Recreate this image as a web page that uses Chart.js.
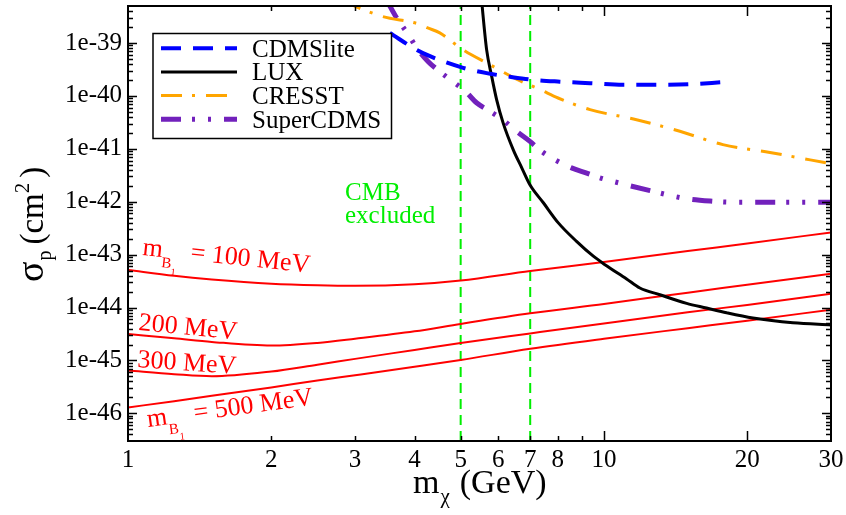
<!DOCTYPE html>
<html>
<head>
<meta charset="utf-8">
<script src="https://cdn.jsdelivr.net/npm/chart.js@4/dist/chart.umd.min.js"></script>
<style>
    html, body { margin: 0; padding: 0; background: #fff; }
</style>
</head>
<body>
<canvas id="chart" width="846" height="515"></canvas>
<script>
// ── Achsen ─────────────────────────────────────────────────────────────────

const X_MIN = 1, X_MAX = 30;
const Y_MIN = 3e-47, Y_MAX = 5e-39;

const X_TICKS = [1, 2, 3, 4, 5, 6, 7, 8, 10, 20, 30];
const Y_TICKS = [1e-46, 1e-45, 1e-44, 1e-43, 1e-42, 1e-41, 1e-40, 1e-39];

// ── Experimentelle Grenzen ─────────────────────────────────────────────────

const CDMSLITE_X = [3.55, 4.04, 4.31, 5.06, 5.67, 6.35, 6.99, 8.08, 9.35, 10.96, 12.92, 15.16, 17.78];
const CDMSLITE_Y = [1.55e-39, 7.41e-40, 5.62e-40, 3.39e-40, 2.69e-40, 2.29e-40, 2.04e-40,
                    1.86e-40, 1.74e-40, 1.62e-40, 1.62e-40, 1.66e-40, 1.82e-40];

const LUX_X = [5.52, 5.67, 5.81, 5.95, 6.14, 6.45, 6.72, 6.99, 7.46, 8.02, 8.76, 9.50, 10.05,
               11.16, 11.90, 13.11, 14.92, 16.43, 18.1, 20.56, 24.95, 30];
const LUX_Y = [7.9e-39, 7.41e-40, 2.34e-40, 8.51e-41, 3.09e-41, 9.55e-42, 4.37e-42, 2.09e-42, 9.55e-43,
               3.98e-43, 1.78e-43, 9.33e-44, 6.46e-44, 3.47e-44, 2.34e-44, 1.74e-44, 1.20e-44, 9.77e-45,
               7.94e-45, 6.31e-45, 5.13e-45, 4.68e-45];

const CRESST_X = [2.8, 2.95, 3.12, 3.43, 4.11, 4.25, 4.52, 5.06, 5.76, 6.57, 7.34, 8.01, 9.35,
                  11.71, 14.44, 17.78, 22.33, 29.9];
const CRESST_Y = [6.3e-39, 5.25e-39, 4.27e-39, 3.16e-39, 2.24e-39, 1.95e-39, 1.55e-39, 7.41e-40,
                  3.89e-40, 2.04e-40, 1.32e-40, 9.12e-41, 5.5e-41, 3.55e-41, 2.14e-41, 1.2e-41,
                  8.51e-42, 5.25e-42];

const SCDMS_X = [3.5, 3.67, 3.88, 4.04, 4.27, 4.52, 4.82, 5.11, 5.40, 5.76, 6.13, 6.55, 6.99, 7.40,
                 8.01, 8.55, 9.20, 9.81, 10.8, 12.5, 14.66, 16.94, 18.39, 30];
const SCDMS_Y = [6.3e-39, 2.95e-39, 1.45e-39, 8.13e-40, 4.47e-40, 2.88e-40, 1.86e-40, 1.23e-40,
                 7.41e-41, 5.13e-41, 3.55e-41, 2.14e-41, 1.38e-41, 8.91e-42, 5.75e-42, 4.37e-42,
                 3.47e-42, 2.82e-42, 2.24e-42, 1.62e-42, 1.17e-42, 1.02e-42, 9.8e-43, 9.8e-43];

// ── Modellkurven (m_B1) ────────────────────────────────────────────────────

const MODEL_X = [1, 1.25, 1.5, 2, 2.5, 3, 4, 5, 7, 10, 15, 20, 30];
const MB100_Y = [5.13e-44, 3.98e-44, 3.39e-44, 2.82e-44, 2.63e-44, 2.57e-44, 2.75e-44, 3.24e-44,
                 4.90e-44, 7.24e-44, 1.17e-43, 1.62e-43, 2.63e-43];
const MB200_Y = [3.16e-45, 2.63e-45, 2.24e-45, 1.91e-45, 2.14e-45, 2.57e-45, 3.55e-45, 4.90e-45,
                 7.76e-45, 1.17e-44, 1.91e-44, 2.69e-44, 4.37e-44];
const MB300_Y = [6.46e-46, 5.50e-46, 5.01e-46, 6.17e-46, 8.32e-46, 1.07e-45, 1.58e-45, 2.14e-45,
                 3.24e-45, 5.01e-45, 8.13e-45, 1.12e-44, 1.82e-44];
const MB500_Y = [1.29e-46, 1.70e-46, 2.14e-46, 3.09e-46, 4.17e-46, 5.25e-46, 7.59e-46, 1.02e-45,
                 1.66e-45, 2.57e-45, 4.07e-45, 5.62e-45, 9.12e-45];

// CMB-Ausschluss
const CMB_BOUNDS = [5, 7];

// ── Helfer ─────────────────────────────────────────────────────────────────

const SERIF = '"Liberation Serif", "Times New Roman", serif';
const GREEN = '#00ee00';

Chart.defaults.font.family = SERIF;

const pts = (xs, ys) => xs.map((x, i) => ({ x, y: ys[i] }));

function curve(label, xs, ys, color, width, dash) {
    return {
        label,
        data: pts(xs, ys),
        borderColor: color,
        borderWidth: width,
        borderDash: dash || [],
        pointRadius: 0,
        showLine: true,
        fill: false,
        cubicInterpolationMode: 'monotone',
        clip: 0,
    };
}

function drawRich(ctx, x, y, angle, parts) {
    ctx.save();
    ctx.translate(x, y);
    ctx.rotate(angle);
    let cx = 0;
    parts.forEach(p => {
        ctx.font = `${p.size}px ${SERIF}`;
        ctx.fillText(p.text, cx, p.dy || 0);
        cx += ctx.measureText(p.text).width + (p.gap || 0);
    });
    ctx.restore();
}

const deg = d => d * Math.PI / 180;

// Chart.js reserviert sonst Platz für überstehende Labels
function noScalePadding(scale) {
    scale.paddingTop = 0;
    scale.paddingBottom = 0;
    scale.paddingLeft = 0;
    scale.paddingRight = 0;
}

// ── Overlay: Legende, Rahmen, Ticks, Beschriftungen ────────────────────────

const overlay = {
    id: 'overlay',
    afterDatasetsDraw(chart) {
        const { ctx, chartArea: a, scales: { x, y } } = chart;
        ctx.save();
        ctx.textAlign = 'left';
        ctx.textBaseline = 'alphabetic';

        // Legende
        ctx.fillStyle = '#fff';
        ctx.fillRect(153, 33.5, 238.5, 105);
        ctx.strokeStyle = '#000';
        ctx.lineWidth = 1.5;
        ctx.strokeRect(153, 33.5, 238.5, 105);
        chart.data.datasets.filter(d => d.label).forEach((d, i) => {
            const base = 56.7 + i * 23.7;
            ctx.save();
            ctx.strokeStyle = d.borderColor;
            ctx.lineWidth = d.borderWidth;
            ctx.setLineDash(d.borderDash);
            ctx.beginPath();
            ctx.moveTo(161, base - 8.5);
            ctx.lineTo(237, base - 8.5);
            ctx.stroke();
            ctx.restore();
            ctx.fillStyle = '#000';
            ctx.font = `25px ${SERIF}`;
            ctx.fillText(d.label, 252, base);
        });

        // Rahmen
        ctx.strokeStyle = '#000';
        ctx.lineWidth = 2;
        ctx.strokeRect(a.left, a.top, a.right - a.left, a.bottom - a.top);

        // Ticks nach innen, alle vier Seiten
        ctx.lineWidth = 1.5;
        ctx.beginPath();
        [2, 3, 4, 5, 6, 7, 8, 9, 10, 20].forEach(v => {
            const len = v >= 10 ? 10 : 5;
            const px = Math.round(x.getPixelForValue(v)) + 0.5;
            ctx.moveTo(px, a.bottom); ctx.lineTo(px, a.bottom - len);
            ctx.moveTo(px, a.top);    ctx.lineTo(px, a.top + len);
        });
        for (let d = -47; d <= -39; d++) {
            for (let k = 1; k <= 9; k++) {
                const v = k * Math.pow(10, d);
                if (v <= Y_MIN || v >= Y_MAX) continue;
                const len = k === 1 ? 9 : 5;
                const py = Math.round(y.getPixelForValue(v)) + 0.5;
                ctx.moveTo(a.left, py);  ctx.lineTo(a.left + len, py);
                ctx.moveTo(a.right, py); ctx.lineTo(a.right - len, py);
            }
        }
        ctx.stroke();

        // CMB excluded
        ctx.fillStyle = GREEN;
        ctx.font = `25px ${SERIF}`;
        ctx.fillText('CMB', 345, 200);
        ctx.fillText('excluded', 345, 223);

        // Kurvenbeschriftungen
        ctx.fillStyle = '#ff0000';
        drawRich(ctx, 142, 255, deg(6), [
            { text: 'm', size: 26 },
            { text: 'B', size: 15, dy: 10 },
            { text: '1', size: 10, dy: 17, gap: 13 },
            { text: '= 100 MeV', size: 26 },
        ]);
        drawRich(ctx, 138, 330, deg(5.5), [{ text: '200 MeV', size: 26 }]);
        drawRich(ctx, 137, 367, deg(4), [{ text: '300 MeV', size: 26 }]);
        drawRich(ctx, 148, 427, deg(-7.7), [
            { text: 'm', size: 26 },
            { text: 'B', size: 15, dy: 10 },
            { text: '1', size: 10, dy: 17, gap: 12 },
            { text: '= 500 MeV', size: 26 },
        ]);

        // Achsentitel
        ctx.fillStyle = '#000';
        drawRich(ctx, 413, 493, 0, [
            { text: 'm', size: 34, gap: 1 },
            { text: 'χ', size: 21, dy: 10, gap: 10 },
            { text: '(GeV)', size: 34 },
        ]);
        drawRich(ctx, 43, 282, -Math.PI / 2, [
            { text: 'σ', size: 38, gap: 1 },
            { text: 'p', size: 20, dy: 8, gap: 6 },
            { text: '(cm', size: 33 },
            { text: '2', size: 21, dy: -14, gap: 5 },
            { text: ')', size: 33 },
        ]);

        ctx.restore();
    },
};

// ── Chart ──────────────────────────────────────────────────────────────────

const datasets = [
    curve('CDMSlite', CDMSLITE_X, CDMSLITE_Y, '#0000ff', 4, [20, 12]),
    curve('LUX', LUX_X, LUX_Y, '#000000', 3),
    curve('CRESST', CRESST_X, CRESST_Y, '#ffa500', 3, [21, 10, 3, 11]),
    curve('SuperCDMS', SCDMS_X, SCDMS_Y, '#7221bc', 5, [20, 11, 3, 13, 3, 13]),
    curve(null, MODEL_X, MB100_Y, '#ff0000', 2),
    curve(null, MODEL_X, MB200_Y, '#ff0000', 2),
    curve(null, MODEL_X, MB300_Y, '#ff0000', 2),
    curve(null, MODEL_X, MB500_Y, '#ff0000', 2),
    ...CMB_BOUNDS.map(b => ({
        data: [{ x: b, y: Y_MIN }, { x: b, y: Y_MAX }],
        borderColor: GREEN,
        borderWidth: 2,
        borderDash: [10, 6],
        pointRadius: 0,
        showLine: true,
        clip: 0,
    })),
];

new Chart(document.getElementById('chart'), {
    type: 'scatter',
    data: { datasets },
    options: {
        responsive: false,
        animation: false,
        devicePixelRatio: 1,
        layout: { padding: { top: 6, right: 15, left: 0, bottom: 0 } },
        plugins: {
            legend: { display: false },
            tooltip: { enabled: false },
        },
        scales: {
            x: {
                type: 'logarithmic',
                min: X_MIN,
                max: X_MAX,
                bounds: 'data',
                grid: { display: false, drawTicks: false },
                border: { display: false },
                afterBuildTicks(scale) { scale.ticks = X_TICKS.map(v => ({ value: v })); },
                afterFit(scale) { scale.height = 74; noScalePadding(scale); },
                ticks: {
                    autoSkip: false,
                    maxRotation: 0,
                    padding: 4,
                    color: '#000',
                    font: { family: SERIF, size: 25 },
                    callback: v => String(v),
                },
            },
            y: {
                type: 'logarithmic',
                min: Y_MIN,
                max: Y_MAX,
                bounds: 'data',
                grid: { display: false, drawTicks: false },
                border: { display: false },
                afterBuildTicks(scale) { scale.ticks = Y_TICKS.map(v => ({ value: v })); },
                afterFit(scale) { scale.width = 128; noScalePadding(scale); },
                ticks: {
                    autoSkip: false,
                    padding: 6,
                    color: '#000',
                    font: { family: SERIF, size: 25 },
                    callback: v => '1e' + Math.round(Math.log10(v)),
                },
            },
        },
    },
    plugins: [overlay],
});
</script>
</body>
</html>
